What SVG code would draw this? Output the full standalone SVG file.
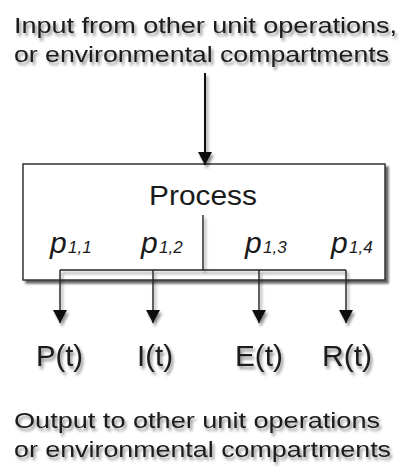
<svg xmlns="http://www.w3.org/2000/svg" width="400" height="469" viewBox="0 0 400 469">
  <defs>
    <filter id="shadow" x="-10%" y="-20%" width="130%" height="160%">
      <feDropShadow dx="2" dy="3" stdDeviation="1.6" flood-color="#000" flood-opacity="0.45"/>
    </filter>
    <filter id="boxShadow" x="-5%" y="-10%" width="115%" height="130%">
      <feDropShadow dx="3" dy="3" stdDeviation="1.2" flood-color="#000" flood-opacity="0.6"/>
    </filter>
    <!-- solid triangular head, tip along +x so orient="auto" points it down the line -->
    <marker id="arrow" viewBox="0 0 13 14" refX="13" refY="7" markerWidth="13" markerHeight="14" markerUnits="userSpaceOnUse" orient="auto">
      <path d="M0,0 L13,7 L0,14 Z" fill="#111"/>
    </marker>
  </defs>
  <style>
    .lbl { font-family: "Liberation Sans", Arial, sans-serif; fill: #1a1a1a; }
    .big { font-size: 22.5px; }
    .proc { font-size: 27px; }
    .out { font-size: 29.5px; }
    .p { font-family: "Liberation Sans", Arial, sans-serif; font-style: italic; fill: #1a1a1a; font-size: 30px; }
    .sub { font-size: 17px; }
    .edge { stroke: #222; stroke-width: 1.4; fill: none; }
    .feed { stroke: #111; stroke-width: 2; fill: none; }
  </style>
  <rect width="400" height="469" fill="#fff"/>

  <!-- heading text -->
  <g id="input-label" filter="url(#shadow)">
    <text class="lbl big" x="14" y="33" textLength="383" lengthAdjust="spacingAndGlyphs">Input from other unit operations,</text>
    <text class="lbl big" x="14" y="62" textLength="375" lengthAdjust="spacingAndGlyphs">or environmental compartments</text>
  </g>

  <!-- process box -->
  <g id="process">
    <rect x="23" y="164" width="362" height="116" fill="#fff" stroke="#333" stroke-width="1.5" filter="url(#boxShadow)"/>
    <text class="lbl proc" x="149" y="205" textLength="108" lengthAdjust="spacingAndGlyphs">Process</text>
  </g>

  <!-- partition coefficients -->
  <g id="coefficients">
    <text class="p" x="50" y="253">p<tspan class="sub" x="68">1,1</tspan></text>
    <text class="p" x="141" y="253">p<tspan class="sub" x="159">1,2</tspan></text>
    <text class="p" x="245" y="253">p<tspan class="sub" x="263">1,3</tspan></text>
    <text class="p" x="331" y="253">p<tspan class="sub" x="349">1,4</tspan></text>
  </g>

  <!-- connectors -->
  <g id="connectors" filter="url(#shadow)">
    <line class="feed" x1="205" y1="73" x2="205" y2="165" marker-end="url(#arrow)"/>
    <polyline class="edge" points="203,215 203,270"/>
    <polyline class="edge" points="60,270 346,270"/>
    <line class="edge" x1="60" y1="270" x2="60" y2="323" marker-end="url(#arrow)"/>
    <line class="edge" x1="153" y1="270" x2="153" y2="323" marker-end="url(#arrow)"/>
    <line class="edge" x1="259" y1="270" x2="259" y2="323" marker-end="url(#arrow)"/>
    <line class="edge" x1="346" y1="270" x2="346" y2="323" marker-end="url(#arrow)"/>
  </g>

  <!-- output streams -->
  <g id="out-P" filter="url(#shadow)">
    <text class="lbl out" x="36" y="366" textLength="47" lengthAdjust="spacingAndGlyphs">P(t)</text>
  </g>
  <g id="out-I" filter="url(#shadow)">
    <text class="lbl out" x="137" y="366" textLength="36" lengthAdjust="spacingAndGlyphs">I(t)</text>
  </g>
  <g id="out-E" filter="url(#shadow)">
    <text class="lbl out" x="235" y="366" textLength="48" lengthAdjust="spacingAndGlyphs">E(t)</text>
  </g>
  <g id="out-R" filter="url(#shadow)">
    <text class="lbl out" x="322" y="366" textLength="50" lengthAdjust="spacingAndGlyphs">R(t)</text>
  </g>

  <!-- footer text -->
  <g id="output-label" filter="url(#shadow)">
    <text class="lbl big" x="14" y="428" textLength="366" lengthAdjust="spacingAndGlyphs">Output to other unit operations</text>
    <text class="lbl big" x="14" y="457" textLength="377" lengthAdjust="spacingAndGlyphs">or environmental compartments</text>
  </g>
</svg>
